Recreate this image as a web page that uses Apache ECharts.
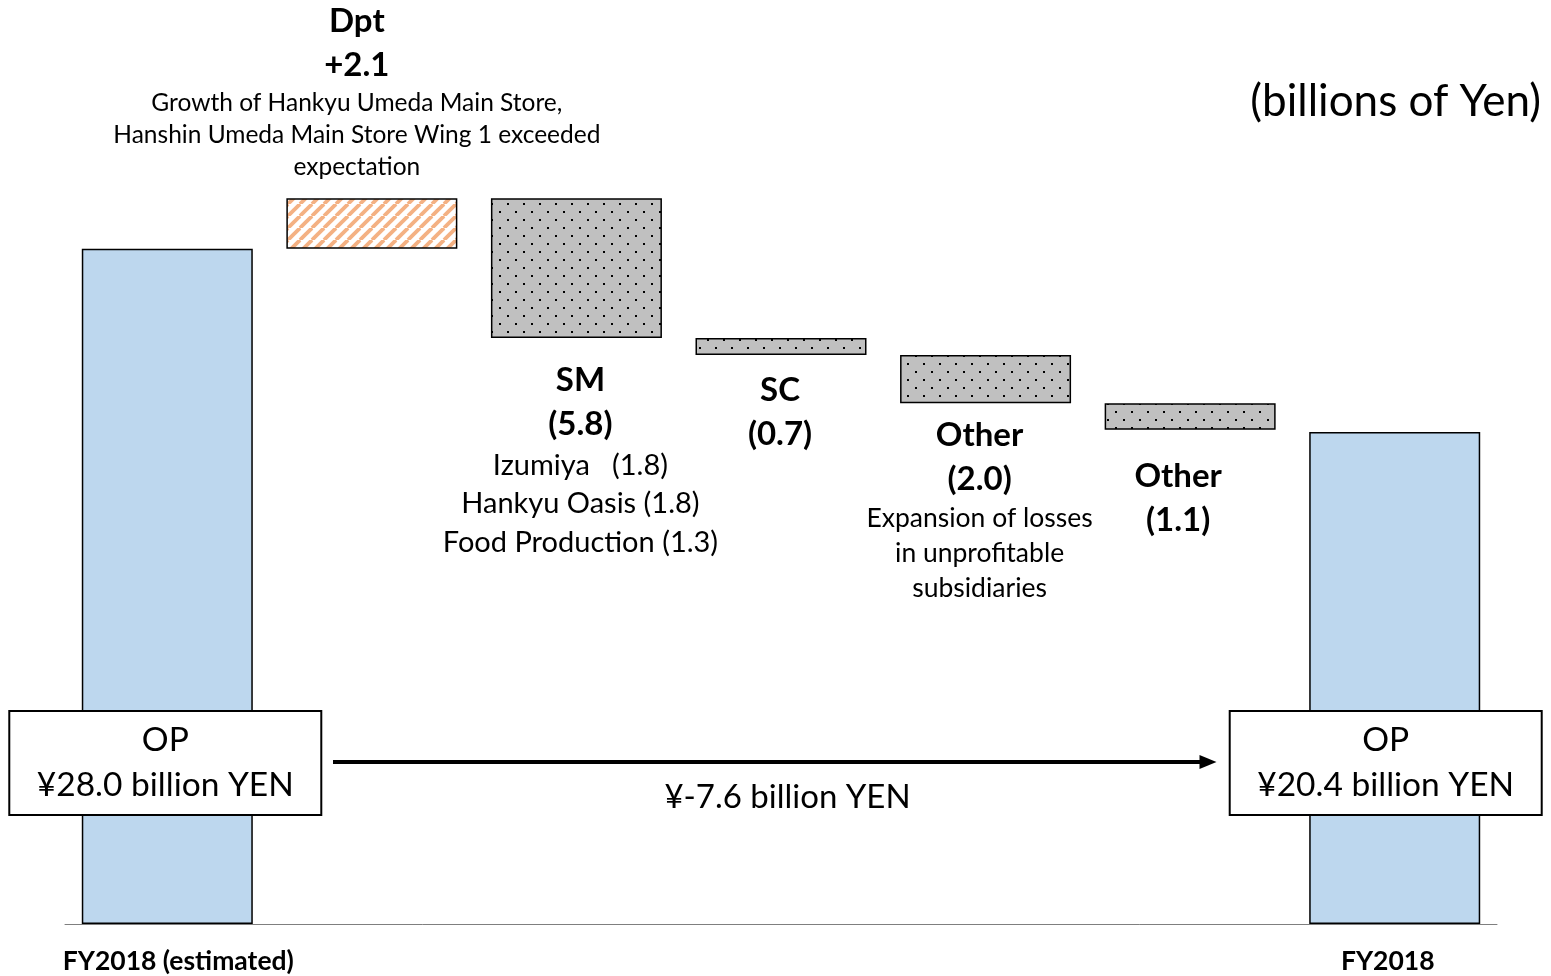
<!DOCTYPE html>
<html>
<head>
<meta charset="utf-8">
<script src="https://cdn.jsdelivr.net/npm/echarts@6/dist/echarts.min.js"></script>
<style>
  html, body { margin: 0; padding: 0; background: #fff; }
  #chart { width: 1551px; height: 976px; }
</style>
</head>
<body>
<div id="chart"></div>
<script>
// waterfall data (billions of Yen)
const categories = ['FY2018 (estimated)', 'Dpt', 'SM', 'SC', 'Other (2.0)', 'Other (1.1)', 'FY2018'];
const changes = [28.0, 2.1, -5.8, -0.7, -2.0, -1.1, 20.4];
const isTotal = [true, false, false, false, false, false, true];
const titles = ['', 'Dpt\n+2.1', 'SM\n(5.8)', 'SC\n(0.7)', 'Other\n(2.0)', 'Other\n(1.1)', ''];
const notes = [
  [],
  ['Growth of Hankyu Umeda Main Store,', 'Hanshin Umeda Main Store Wing 1 exceeded', 'expectation'],
  ['Izumiya   (1.8)', 'Hankyu Oasis (1.8)', 'Food Production (1.3)'],
  [],
  ['Expansion of losses', 'in unprofitable', 'subsidiaries'],
  [],
  []
];
const boxLines = [['OP', '¥28.0 billion YEN'], [], [], [], [], [], ['OP', '¥20.4 billion YEN']];
const diffText = '¥-7.6 billion YEN';
const unitText = '(billions of Yen)';

function dotPattern() {
  const c = document.createElement('canvas');
  c.width = 16; c.height = 16;
  const g = c.getContext('2d');
  g.fillStyle = '#C0C0C0';
  g.fillRect(0, 0, 16, 16);
  g.fillStyle = '#000';
  g.fillRect(3, 3, 2, 2);
  g.fillRect(11, 11, 2, 2);
  return c;
}

function hatchPattern() {
  const c = document.createElement('canvas');
  c.width = 12; c.height = 12;
  const g = c.getContext('2d');
  g.fillStyle = '#fff';
  g.fillRect(0, 0, 12, 12);
  g.strokeStyle = '#F4B183';
  g.lineWidth = 3.8;
  for (const k of [-12, 0, 12]) {
    g.beginPath();
    g.moveTo(k, 12);
    g.lineTo(k + 12, 0);
    g.stroke();
  }
  return c;
}

const dots = { image: dotPattern(), repeat: 'repeat' };
const hatch = { image: hatchPattern(), repeat: 'repeat' };

// running totals -> invisible base + visible bar
const base = [];
const heights = [];
let running = 0;
changes.forEach((v, i) => {
  if (isTotal[i]) {
    base.push(0); heights.push(v); running = v;
  } else if (v >= 0) {
    base.push(running); heights.push(v); running += v;
  } else {
    base.push(+(running + v).toFixed(2)); heights.push(-v); running += v;
  }
});

// label placement per bar
const labelPos = ['insideBottom', 'top', 'bottom', 'bottom', 'bottom', 'bottom', 'insideBottom'];
const labelDist = [110, 15, 20, 13, 10, 25, 110];
const labelDx = [-2, -15, 4, -1, -6, -12, -9];

function labelText(i) {
  if (boxLines[i].length) return boxLines[i].map(s => '{b|' + s + '}').join('\n');
  const t = titles[i].split('\n').map(s => '{t|' + s + '}');
  const style = i === 1 ? 'n' : (i === 4 ? 'm' : 'd');
  const n = notes[i].map(s => '{' + style + '|' + s + '}');
  return t.concat(n).join('\n');
}

const barData = heights.map((h, i) => {
  let color = dots;
  if (isTotal[i]) color = '#BDD7EE';
  else if (changes[i] > 0) color = hatch;
  const label = {
    show: true,
    position: labelPos[i],
    distance: labelDist[i],
    offset: [labelDx[i], 0],
    formatter: labelText(i),
    color: '#000',
    align: 'center'
  };
  if (isTotal[i]) {
    Object.assign(label, {
      backgroundColor: '#fff',
      borderColor: '#000',
      borderWidth: 2,
      width: 310,
      padding: [6, 0, 6, 0]
    });
  }
  return { value: h, itemStyle: { color: color }, label: label };
});

const chart = echarts.init(document.getElementById('chart'));
chart.setOption({
  animation: false,
  textStyle: { fontFamily: 'Lato' },
  title: {
    text: unitText,
    right: 5,
    top: 75,
    textStyle: { fontFamily: 'Lato', fontSize: 44, fontWeight: 'normal', color: '#000' }
  },
  grid: { left: 65, right: 54, top: 80, bottom: 52 },
  xAxis: {
    type: 'category',
    data: categories,
    axisLine: { lineStyle: { color: '#7f7f7f', width: 1 } },
    axisTick: { show: false },
    axisLabel: {
      interval: 0,
      margin: 24,
      formatter: (v, i) => i === 0 ? '{a|' + v + '}' : (i === 6 ? '{c|' + v + '}' : ''),
      rich: {
        a: { fontFamily: 'Lato', fontSize: 26.5, fontWeight: 'bold', color: '#000', padding: [0, 0, 0, 22] },
        c: { fontFamily: 'Lato', fontSize: 26.5, fontWeight: 'bold', color: '#000', padding: [0, 14, 8, 0] }
      }
    }
  },
  yAxis: { type: 'value', min: 0, max: 35, show: false },
  series: [
    {
      type: 'bar',
      stack: 'wf',
      barWidth: 171,
      silent: true,
      itemStyle: { color: 'transparent' },
      data: base
    },
    {
      type: 'bar',
      stack: 'wf',
      barWidth: 171,
      itemStyle: { borderColor: '#000', borderWidth: 1.5 },
      emphasis: { disabled: true },
      label: {
        rich: {
          t: { fontFamily: 'Lato', fontSize: 33, fontWeight: 'bold', lineHeight: 44, color: '#000' },
          n: { fontFamily: 'Lato', fontSize: 24.5, lineHeight: 32, color: '#000' },
          d: { fontFamily: 'Lato', fontSize: 29, lineHeight: 38.5, color: '#000' },
          m: { fontFamily: 'Lato', fontSize: 26.5, lineHeight: 35, color: '#000' },
          b: { fontFamily: 'Lato', fontSize: 33.5, lineHeight: 45, color: '#000', width: 310, align: 'center' }
        }
      },
      markLine: {
        silent: true,
        symbol: ['none', 'triangle'],
        symbolSize: [14, 17],
        lineStyle: { color: '#000', width: 4, type: 'solid' },
        label: {
          show: true,
          formatter: diffText,
          position: 'insideMiddleBottom',
          distance: 19,
          fontFamily: 'Lato',
          fontSize: 33,
          color: '#000',
          padding: [0, 0, 0, 34]
        },
        data: [[{ x: 333, y: 762 }, { x: 1208, y: 762 }]]
      },
      data: barData
    }
  ]
});
</script>
</body>
</html>
